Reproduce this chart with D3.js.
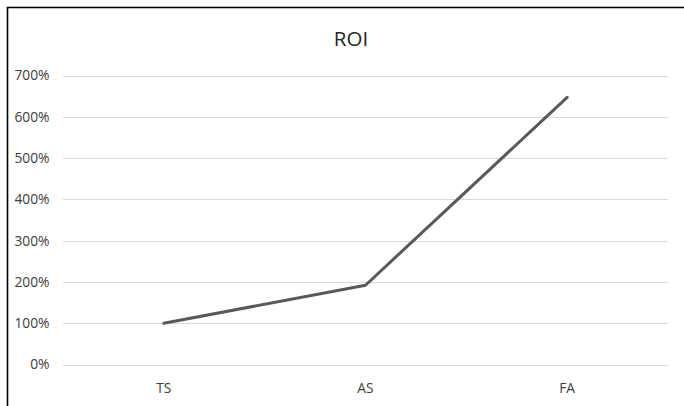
<!DOCTYPE html>
<html>
<head>
<meta charset="utf-8">
<script src="https://cdn.jsdelivr.net/npm/d3@7"></script>
<style>
  html, body { margin: 0; padding: 0; background: #fff; }
  svg { display: block; }
</style>
</head>
<body>
<svg id="chart" width="684" height="406"></svg>
<script>
// ROI by stage
const categories = ["TS", "AS", "FA"];
const roiValues = [1.00, 1.92, 6.47];
const yTicks = [0, 1, 2, 3, 4, 5, 6, 7];
const title = "ROI";

const W = 684, H = 406;
const margin = { left: 63, right: 16, top: 75, bottom: 42 };
const svg = d3.select("#chart");
const font = "'Open Sans', 'Liberation Sans', sans-serif";

// Frame edges (top and left)
svg.append("line").attr("x1", 7.5).attr("x2", 7.5).attr("y1", 7).attr("y2", H)
  .attr("stroke", "#000").attr("stroke-width", 1.6);
svg.append("line").attr("x1", 7).attr("x2", W).attr("y1", 7.5).attr("y2", 7.5)
  .attr("stroke", "#000").attr("stroke-width", 1.6);

const x = d3.scaleBand().domain(categories).range([margin.left, W - margin.right]);
const y = d3.scaleLinear().domain([0, 7]).range([364.5, 75.5]);

// Gridlines
svg.append("g").selectAll("line").data(yTicks).join("line")
  .attr("x1", margin.left).attr("x2", W - margin.right)
  .attr("y1", d => Math.round(y(d)) + 0.5).attr("y2", d => Math.round(y(d)) + 0.5)
  .attr("stroke", "#d9d9d9").attr("stroke-width", 1);

// Y axis labels
const yAxis = d3.axisLeft(y).tickValues(yTicks).tickSize(0).tickPadding(0)
  .tickFormat(d => d3.format(".0%")(d));
const gy = svg.append("g").attr("transform", "translate(49.5,0)").call(yAxis);
gy.select(".domain").remove();
gy.selectAll("text").attr("fill", "#404040").style("font-family", font).style("font-size", "13.8px");

// X axis labels
const xAxis = d3.axisBottom(x).tickSize(0).tickPadding(0);
const gx = svg.append("g").attr("transform", "translate(0,383)").call(xAxis);
gx.select(".domain").remove();
gx.selectAll("text").attr("fill", "#404040").style("font-family", font).style("font-size", "13.8px");

// Line
const line = d3.line().x((d, i) => x(categories[i]) + x.bandwidth() / 2).y(d => y(d));
svg.append("path").datum(roiValues).attr("d", line)
  .attr("fill", "none").attr("stroke", "#595959").attr("stroke-width", 3)
  .attr("stroke-linejoin", "round").attr("stroke-linecap", "round");

// Title
svg.append("text").attr("x", 351).attr("y", 46).attr("text-anchor", "middle")
  .attr("fill", "#262626").style("font-family", font).style("font-size", "20.5px")
  .text(title);
</script>
</body>
</html>
